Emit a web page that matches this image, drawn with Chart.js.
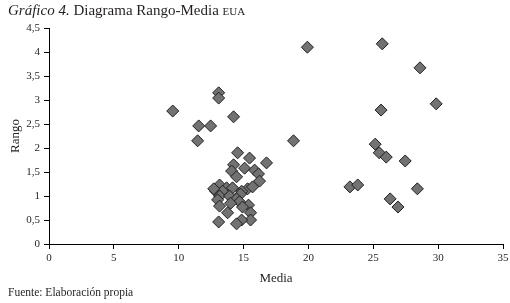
<!DOCTYPE html>
<html>
<head>
<meta charset="utf-8">
<script src="https://cdn.jsdelivr.net/npm/chart.js@4/dist/chart.umd.min.js"></script>
<style>
  html, body { margin: 0; padding: 0; background: #fff; }
  #wrap { position: relative; width: 510px; height: 303px; overflow: hidden; }
  #c { position: absolute; left: 0; top: 0; }
  #title { position: absolute; left: 8px; top: 2px; font-family: "Liberation Serif", serif; font-size: 15px; color: #231f20; white-space: nowrap; }
  #title i { font-style: italic; }
  #title .sc { font-variant: small-caps; text-transform: lowercase; }
  #foot { position: absolute; left: 8px; top: 286px; font-family: "Liberation Serif", serif; font-size: 11.5px; color: #231f20; white-space: nowrap; }
</style>
</head>
<body>
<div id="wrap">
  <canvas id="c" width="510" height="303"></canvas>
  <div id="title"><i>Gráfico 4.</i> Diagrama Rango-Media <span class="sc">EUA</span></div>
  <div id="foot">Fuente: Elaboración propia</div>
</div>
<script>
// Media (x) values
const media = [
  9.54, 13.08, 13.08, 11.54, 12.46, 11.46, 14.23, 18.85, 19.92,
  25.69, 28.6, 29.85, 25.6, 25.15, 25.46, 26.0, 27.46, 23.2, 23.8, 26.3, 26.9, 28.4,
  14.54, 15.46, 16.77, 14.23, 15.08, 15.85, 14.08, 16.15, 14.46, 16.23,
  13.15, 13.69, 14.15, 15.31, 15.69, 12.85, 13.38, 14.85, 13.15, 13.92,
  14.77, 14.46, 13.0, 14.69, 13.15, 15.38, 14.92, 13.77, 15.54, 15.54,
  13.08, 14.85, 14.46, 12.7, 14.0
];
// Rango (y) values
const rango = [
  2.77, 3.15, 3.04, 2.46, 2.46, 2.15, 2.65, 2.15, 4.10,
  4.17, 3.67, 2.92, 2.79, 2.08, 1.90, 1.81, 1.73, 1.19, 1.23, 0.94, 0.77, 1.15,
  1.90, 1.79, 1.69, 1.65, 1.58, 1.54, 1.52, 1.46, 1.40, 1.31,
  1.23, 1.17, 1.17, 1.15, 1.19, 1.10, 1.10, 1.10, 1.00, 1.00,
  1.04, 0.94, 0.92, 0.88, 0.79, 0.81, 0.77, 0.65, 0.65, 0.50,
  0.46, 0.50, 0.42, 1.15, 0.85
];
const xTickLabels = ['0', '5', '10', '15', '20', '25', '30', '35'];
const yTickLabels = ['0', '0,5', '1', '1,5', '2', '2,5', '3', '3,5', '4', '4,5'];
const xTitle = 'Media';
const yTitle = 'Rango';

const points = media.map((m, i) => ({ x: m, y: rango[i] }));
const ink = '#231f20';
const serif = 'Liberation Serif';

new Chart(document.getElementById('c'), {
  type: 'scatter',
  data: {
    datasets: [{
      data: points,
      pointStyle: 'rectRot',
      pointRadius: 6,
      pointHoverRadius: 6,
      backgroundColor: '#727272',
      borderColor: '#1e1e1e',
      borderWidth: 1
    }]
  },
  options: {
    responsive: false,
    animation: false,
    events: [],
    layout: { padding: { left: 0, top: 28, right: 7, bottom: 17 } },
    plugins: { legend: { display: false }, tooltip: { enabled: false } },
    scales: {
      x: {
        type: 'linear', min: 0, max: 35,
        afterFit: s => { s.height = 42; s.paddingRight = 0; s.paddingLeft = 0; },
        ticks: {
          stepSize: 5, color: ink, padding: 3,
          font: { family: serif, size: 11 },
          callback: (v) => xTickLabels[Math.round(v / 5)]
        },
        grid: { display: true, drawOnChartArea: false, drawTicks: true, tickLength: 5, color: '#000' },
        border: { display: true, color: '#000', width: 1 },
        title: { display: true, text: xTitle, color: ink, font: { family: serif, size: 13 }, padding: { top: 0, bottom: 0 } }
      },
      y: {
        type: 'linear', min: 0, max: 4.5,
        afterFit: s => { s.width = 49; s.paddingTop = 0; s.paddingBottom = 0; },
        ticks: {
          stepSize: 0.5, color: ink, padding: 4,
          font: { family: serif, size: 11 },
          callback: (v) => yTickLabels[Math.round(v / 0.5)]
        },
        grid: { display: true, drawOnChartArea: false, drawTicks: true, tickLength: 5, color: '#000' },
        border: { display: true, color: '#000', width: 1 },
        title: { display: true, text: yTitle, color: ink, font: { family: serif, size: 13 }, padding: { top: 8, bottom: 0 } }
      }
    }
  }
});
</script>
</body>
</html>
